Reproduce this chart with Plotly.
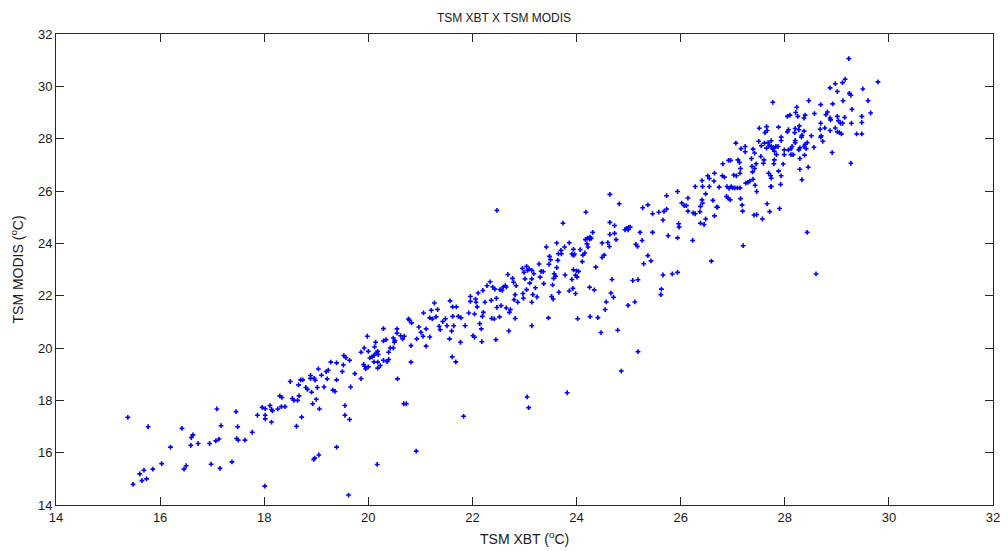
import plotly.graph_objects as go

# Paired sea-surface temperature readings: XBT (x) against MODIS (y), in deg C
xbt = [
    # 15 - 17.5
    15.38, 15.48, 15.61, 15.69, 15.65, 15.74, 15.86, 16.03, 15.77, 16.20, 16.42, 16.63, 16.60, 16.59,
    16.73, 16.46, 16.50, 16.95, 16.98, 17.07, 17.13, 17.15, 17.09, 17.17, 17.38, 17.46, 17.49, 17.47, 17.50,
    # 17.5 - 19.7
    17.63, 17.77, 17.87, 17.96, 18.02, 18.02, 18.02, 18.11, 18.14, 18.16, 18.14, 18.01, 18.26, 18.30,
    18.34, 18.33, 18.40, 18.50, 18.54, 18.57, 18.64, 18.67, 18.72, 18.62, 18.66, 18.70, 18.74, 18.80,
    18.83, 18.91, 18.93, 19.00, 19.06, 18.89, 18.89, 18.96, 18.98, 19.04, 19.02, 19.10, 19.15, 19.19,
    19.23, 19.21, 19.28, 19.32, 19.36, 19.39, 19.39, 18.95, 18.97, 19.05, 19.39, 19.50, 19.52, 19.53,
    19.57, 19.64, 19.55, 19.55, 19.64, 19.62, 19.66,
    # 19.7 - 21.8
    19.74, 19.86, 19.86, 19.92, 19.91, 19.93, 19.95, 20.00, 19.98, 20.00, 20.03, 20.07, 20.11, 20.12,
    20.14, 20.15, 20.18, 20.19, 20.11, 20.18, 20.18, 20.23, 20.29, 20.29, 20.29, 20.34, 20.36, 20.39,
    20.39, 20.42, 20.48, 20.50, 20.48, 20.51, 20.55, 20.55, 20.56, 20.62, 20.66, 20.69, 20.68, 20.73,
    20.77, 20.79, 20.83, 20.82, 20.82, 20.93, 20.92, 20.17, 20.97, 21.01, 21.05, 21.06, 21.11, 21.11,
    21.18, 21.18, 21.21, 21.23, 21.27, 21.30, 21.33, 21.36, 21.38, 21.43, 21.48, 21.51, 21.56, 21.57,
    21.60, 21.61, 21.62, 21.62, 21.64, 21.68, 21.69, 21.73, 21.77, 21.83,
    # 21.8 - 23.8
    22.47, 21.78, 21.86, 21.93, 21.96, 21.96, 22.04, 22.01, 22.04, 22.06, 22.07, 22.09, 22.11, 22.14,
    22.17, 22.18, 22.19, 22.20, 22.21, 22.24, 22.28, 22.34, 22.36, 22.37, 22.39, 22.42, 22.43, 22.45,
    22.46, 22.47, 22.52, 22.53, 22.55, 22.57, 22.59, 22.63, 22.65, 22.65, 22.68, 22.70, 22.71, 22.73,
    22.77, 22.79, 22.80, 22.82, 22.82, 22.84, 22.87, 22.96, 22.97, 22.98, 22.99, 23.01, 23.04, 23.04,
    23.06, 23.05, 23.08, 23.09, 23.10, 23.14, 23.14, 23.14, 23.14, 23.16, 23.18, 23.21, 23.24, 23.28,
    23.30, 23.32, 23.36, 23.37, 23.42, 23.46, 23.47, 23.48, 23.50, 23.52, 23.54, 23.55, 23.56, 23.57,
    23.60, 23.62, 23.62, 23.64, 23.65, 23.66, 23.70, 23.71, 23.74, 23.77, 23.78, 23.82,
    # 23.8 - 25.8
    23.86, 23.94, 23.91, 23.94, 23.96, 23.91, 23.94, 23.98, 24.00, 24.04, 24.01, 23.93, 23.86, 23.98,
    24.02, 24.07, 24.12, 24.11, 24.16, 24.17, 24.18, 24.20, 24.21, 24.22, 24.25, 24.26, 24.28, 24.31,
    24.25, 24.26, 24.34, 24.37, 24.41, 24.47, 24.49, 24.49, 24.53, 24.55, 24.57, 24.60, 24.63, 24.64,
    24.64, 24.64, 24.66, 24.68, 24.71, 24.73, 24.73, 24.76, 24.79, 24.82, 24.86, 24.93, 24.96, 24.99,
    25.00, 25.03, 24.99, 25.08, 25.12, 25.14, 25.17, 25.18, 25.18, 25.22, 25.26, 25.27, 25.29, 25.37,
    25.37, 25.43, 25.46, 25.46, 25.58, 25.63, 25.62, 25.66, 25.66, 25.68, 25.73, 25.73, 25.76,
    # 25.8 - 27.7
    25.84, 25.94, 25.94, 25.94, 25.96, 25.97, 26.02, 26.07, 26.11, 26.14, 26.14, 26.23, 26.24, 26.28,
    26.28, 26.37, 26.38, 26.38, 26.41, 26.41, 26.42, 26.42, 26.45, 26.48, 26.48, 26.52, 26.55, 26.55,
    26.59, 26.62, 26.64, 26.65, 26.65, 26.69, 26.71, 26.74, 26.80, 26.81, 26.84, 26.88, 26.89, 26.91,
    26.92, 26.93, 26.95, 26.96, 26.97, 27.00, 27.02, 27.04, 27.06, 27.07, 27.09, 27.10, 27.13, 27.14,
    27.14, 27.15, 27.15, 27.18, 27.19, 27.20, 27.16, 27.24, 27.24, 27.25, 27.29, 27.33, 27.36, 27.37,
    27.38, 27.39, 27.39, 27.41, 27.42, 27.42, 27.43, 27.45, 27.46, 27.46, 27.50, 27.51, 27.54, 27.55,
    27.57, 27.59, 27.60, 27.61, 27.62, 27.65, 27.65, 27.66, 27.66, 27.68, 27.69, 27.70, 27.71, 27.73,
    27.73,
    # 27.7 - 29.8
    29.23, 29.79, 29.16, 29.11, 28.97, 28.87, 29.01, 29.24, 29.27, 29.50, 29.60, 29.12, 28.92, 28.69,
    28.46, 27.77, 28.23, 29.29, 29.65, 28.82, 28.79, 28.57, 28.21, 28.05, 28.10, 28.25, 28.37, 28.39,
    28.69, 28.77, 28.87, 28.88, 29.01, 29.03, 29.07, 29.11, 29.15, 29.28, 29.48, 29.48, 27.88, 28.05,
    28.07, 28.20, 28.19, 28.28, 28.27, 28.33, 28.32, 28.37, 28.51, 28.68, 28.70, 28.69, 28.73, 28.87,
    28.97, 29.01, 29.05, 29.09, 29.38, 29.48, 27.93, 27.93, 28.20, 28.20, 28.43, 28.39, 27.74, 27.74,
    27.78, 27.83, 27.87, 27.77, 27.80, 27.84, 27.99, 28.07, 28.14, 28.12, 28.29, 28.27, 28.16, 27.99,
    28.12, 28.37, 28.41, 28.56, 28.38, 28.29, 27.80, 27.79, 27.97, 27.74, 27.74, 27.88, 27.93, 27.92,
    28.29, 28.45, 28.33, 28.91, 29.27, 27.90, 28.43, 28.60,
]

modis = [
    # 15 - 17.5
    17.35, 14.79, 15.19, 15.33, 14.93, 15.00, 15.37, 15.58, 16.99, 16.21, 16.93, 16.68, 16.58, 16.28,
    16.35, 15.37, 15.50, 16.35, 15.56, 16.45, 16.52, 15.40, 17.67, 17.03, 15.65, 17.57, 16.99, 16.54, 16.48,
    # 17.5 - 19.7
    16.48, 16.78, 17.43, 17.73, 17.68, 17.43, 17.29, 17.80, 17.65, 17.60, 17.17, 14.72, 17.67, 18.17,
    18.11, 17.76, 17.76, 18.72, 18.07, 18.00, 18.00, 18.17, 17.36, 17.01, 18.59, 18.78, 18.78, 18.49,
    18.42, 18.31, 17.87, 18.04, 17.67, 18.95, 18.84, 18.84, 18.77, 19.20, 18.49, 18.96, 18.51, 19.10,
    19.15, 18.82, 19.46, 18.39, 18.34, 19.43, 18.78, 15.74, 15.79, 15.91, 16.21, 19.10, 19.35, 19.71,
    19.63, 19.53, 17.80, 17.43, 17.27, 14.38, 18.51,
    # 19.7 - 21.8
    19.02, 18.83, 19.84, 20.00, 19.37, 19.30, 19.20, 19.28, 20.45, 19.87, 19.62, 19.66, 19.72, 20.04,
    20.22, 19.81, 19.87, 19.75, 19.47, 19.46, 19.23, 19.33, 19.53, 20.74, 20.27, 20.32, 19.48, 19.56,
    19.84, 20.00, 20.00, 20.22, 20.38, 20.28, 20.73, 20.57, 18.82, 20.47, 20.35, 20.45, 17.87, 17.87,
    21.11, 21.06, 20.96, 20.09, 19.46, 20.35, 16.06, 15.55, 20.80, 20.60, 20.45, 21.34, 20.73, 20.07,
    20.42, 21.15, 21.44, 21.11, 21.72, 21.19, 21.47, 20.83, 20.70, 21.01, 21.12, 20.85, 20.35, 21.80,
    20.65, 19.66, 21.57, 21.21, 20.85, 19.47, 21.57, 21.21, 20.22, 17.39,
    # 21.8 - 23.8
    25.26, 21.15, 20.85, 21.34, 21.97, 21.78, 21.30, 20.47, 20.41, 21.87, 21.75, 21.57, 22.10, 20.93,
    20.73, 20.24, 21.21, 22.20, 21.36, 21.75, 22.38, 22.53, 21.82, 21.13, 22.33, 21.11, 22.25, 20.32,
    21.90, 21.55, 21.19, 22.23, 21.62, 22.20, 22.33, 22.38, 22.33, 21.53, 22.81, 20.65, 21.36, 21.47,
    22.66, 22.51, 21.85, 22.04, 21.13, 22.38, 21.75, 23.04, 22.08, 21.90, 22.89, 22.64, 23.12, 22.23,
    22.97, 18.13, 17.72, 23.02, 22.48, 22.97, 22.64, 21.75, 20.85, 22.04, 22.84, 22.30, 21.95, 23.21,
    22.71, 22.93, 22.92, 22.46, 23.86, 21.15, 23.20, 23.50, 23.37, 21.97, 22.41, 21.87, 22.66, 22.84,
    22.74, 24.01, 23.07, 23.35, 23.60, 22.13, 23.73, 23.60, 24.77, 23.86, 22.79, 18.29,
    # 23.8 - 25.8
    24.02, 23.77, 23.59, 23.54, 23.59, 22.62, 22.99, 22.78, 22.95, 22.93, 22.71, 22.28, 22.18, 22.08,
    21.12, 23.76, 23.55, 23.30, 23.63, 24.14, 25.19, 23.98, 24.20, 23.86, 24.16, 24.24, 24.19, 24.42,
    22.32, 21.20, 22.22, 23.09, 21.16, 20.59, 24.01, 23.46, 23.55, 21.47, 21.76, 24.03, 23.88, 25.87,
    24.80, 24.34, 22.10, 22.62, 21.94, 24.68, 24.38, 24.14, 20.68, 25.51, 19.12, 24.52, 24.57, 24.52,
    24.61, 24.62, 21.63, 22.58, 21.76, 23.96, 23.88, 22.61, 19.86, 24.42, 24.11, 25.36, 23.22, 25.47,
    23.53, 23.33, 25.13, 24.42, 25.19, 22.25, 22.04, 24.89, 22.79, 25.22, 25.82, 25.31, 24.29,
    # 25.8 - 27.7
    22.83, 22.89, 24.21, 25.98, 24.75, 24.62, 25.54, 25.44, 25.44, 25.73, 25.23, 24.11, 25.16, 26.17,
    25.13, 25.21, 25.41, 24.77, 26.40, 25.66, 25.54, 26.17, 24.72, 25.89, 24.93, 26.58, 26.48, 26.17,
    23.32, 25.64, 26.38, 25.05, 26.68, 25.38, 25.38, 26.15, 26.58, 27.04, 26.53, 25.79, 26.17, 25.74,
    27.17, 26.10, 25.66, 27.17, 26.17, 26.12, 26.61, 26.12, 27.83, 26.58, 26.12, 27.19, 27.09, 26.68,
    26.12, 25.71, 26.86, 25.46, 25.23, 23.91, 27.62, 27.70, 27.50, 26.30, 26.33, 26.38, 27.24, 26.94,
    26.73, 26.45, 27.60, 25.08, 27.45, 26.86, 26.22, 27.04, 25.10, 25.98, 27.90, 28.40, 27.32, 27.73,
    24.93, 27.06, 27.19, 27.83, 28.23, 27.64, 28.46, 25.51, 28.31, 27.85, 26.68, 27.73, 25.21, 26.17,
    26.58,
    # 27.7 - 29.8
    31.06, 30.17, 30.27, 30.14, 30.10, 29.94, 29.80, 29.73, 29.66, 29.90, 29.45, 29.45, 29.33, 29.30,
    29.45, 29.39, 29.20, 29.12, 28.98, 29.02, 28.92, 28.96, 29.00, 28.85, 28.90, 28.85, 28.79, 28.90,
    28.59, 28.41, 28.79, 28.72, 28.85, 28.69, 28.59, 28.59, 28.81, 28.59, 28.85, 28.62, 28.44, 28.26,
    28.34, 28.39, 28.23, 28.49, 28.34, 28.13, 28.06, 28.29, 28.11, 28.36, 28.11, 28.06, 27.90, 28.31,
    28.41, 28.26, 28.23, 28.18, 28.18, 28.18, 28.06, 27.93, 27.93, 27.85, 27.85, 27.78, 27.92, 27.70,
    27.67, 27.70, 27.70, 27.60, 27.52, 27.39, 27.57, 27.57, 27.70, 27.62, 27.65, 27.57, 27.39, 27.39,
    27.39, 27.70, 27.62, 27.67, 27.37, 27.24, 27.19, 27.04, 27.03, 26.49, 26.17, 26.76, 26.58, 26.25,
    26.83, 26.91, 26.43, 27.47, 27.06, 25.33, 24.42, 22.83,
]

x_ticks = [14, 16, 18, 20, 22, 24, 26, 28, 30, 32]
y_ticks = [14, 16, 18, 20, 22, 24, 26, 28, 30, 32]

axis_color = "#262626"
text_color = "#1a1a1a"
font_family = "Liberation Sans, Arial, sans-serif"

fig = go.Figure(
    go.Scatter(
        x=xbt,
        y=modis,
        mode="markers",
        marker=dict(symbol="cross", size=4, color="#0000FF", line=dict(width=0)),
        showlegend=False,
    )
)

common_axis = dict(
    range=[14, 32],
    showgrid=False,
    zeroline=False,
    showline=True,
    linecolor=axis_color,
    linewidth=1,
    mirror="ticks",
    ticks="inside",
    ticklen=8,
    tickwidth=1,
    tickcolor=axis_color,
    tickfont=dict(family=font_family, size=13, color=text_color),
    automargin=False,
)

fig.update_xaxes(tickvals=x_ticks, **common_axis)
fig.update_yaxes(tickvals=y_ticks, **common_axis)

label_font = dict(family=font_family, size=14, color=text_color)

fig.update_layout(
    width=1008,
    height=551,
    margin=dict(l=56, r=15, t=34, b=46),
    paper_bgcolor="white",
    plot_bgcolor="white",
    title=dict(
        text="TSM XBT X TSM MODIS",
        x=0.5,
        xanchor="center",
        y=1 - 18 / 551,
        yanchor="middle",
        font=dict(family=font_family, size=12, color=text_color),
    ),
    annotations=[
        # axis labels, placed in paper coordinates below / left of the frame
        dict(
            text="TSM XBT (<sup>o</sup>C)",
            xref="paper", yref="paper",
            x=0.5, y=-33 / 471,
            xanchor="center", yanchor="middle",
            showarrow=False, font=label_font,
        ),
        dict(
            text="TSM MODIS (<sup>o</sup>C)",
            xref="paper", yref="paper",
            x=-39 / 937, y=0.5,
            xanchor="center", yanchor="middle",
            textangle=-90,
            showarrow=False, font=label_font,
        ),
    ],
)

fig.write_html("out.html")
